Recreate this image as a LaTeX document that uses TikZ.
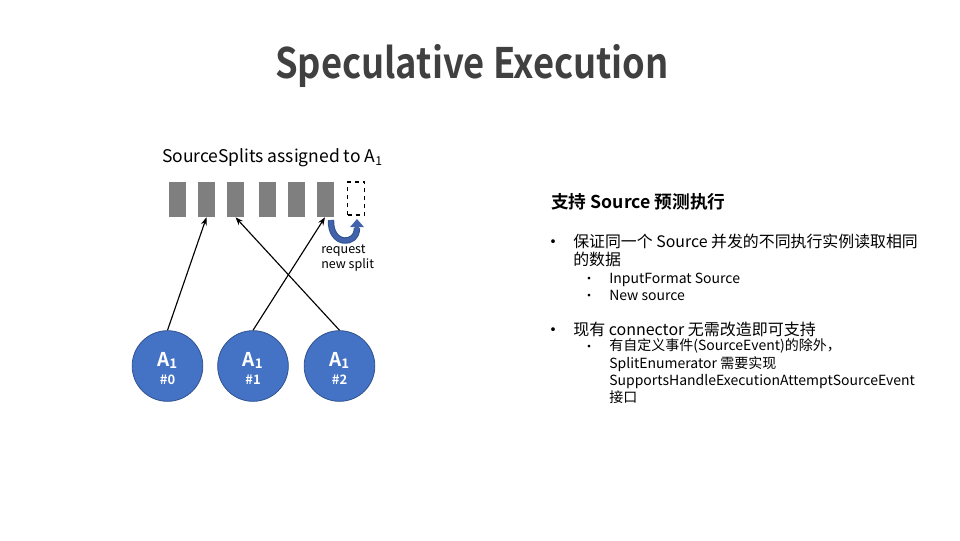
\documentclass[tikz,border=0pt]{standalone}
\usepackage{fontspec}
\setmainfont{Noto Sans CJK SC}
\newfontfamily\cjkbold{Noto Sans CJK SC Bold}
\usetikzlibrary{arrows.meta}
\definecolor{titlegray}{HTML}{404040}
\definecolor{bargray}{HTML}{7F7F7F}
\definecolor{circblue}{HTML}{4472C4}
\definecolor{circedge}{HTML}{2F528F}
\definecolor{ublue}{HTML}{4262AC}
\newcommand{\fpx}[1]{\fontsize{\dimexpr #1pt*3/4\relax}{\dimexpr #1pt*9/10\relax}\selectfont}
\tikzset{
  barbox/.style={fill=bargray, draw=none, minimum width=12.75pt, minimum height=26.25pt, inner sep=0pt},
  emptybox/.style={draw=black, dashed, line width=0.9pt, fill=white, minimum width=12.75pt, minimum height=24.75pt, inner sep=0pt},
  agent/.style={circle, fill=circblue, draw=circedge, line width=0.6pt, minimum size=53pt, inner sep=0pt},
  agentlbl/.style={anchor=base, inner sep=0pt, text=white},
  link/.style={-{Stealth[length=6pt,width=4.5pt]}, line width=0.85pt, black},
  txt/.style={anchor=base west, inner sep=0pt, text=black},
  dot/.style={anchor=base, inner sep=0pt, text=black},
}
\begin{document}
\begin{tikzpicture}[x=0.75pt, y=-0.75pt]
\useasboundingbox (0,0) rectangle (960,540);
% title
\node[anchor=base, inner sep=0pt, text=titlegray] (title) at (472,78) {\scalebox{0.865}[1]{\cjkbold\fpx{42}Speculative Execution}};
% left diagram
\node[anchor=base, inner sep=0pt] (cap) at (272.5,162) {\fpx{17.5}SourceSplits assigned to A\textsubscript{1}};
\node[barbox] (b1) at (177.5,199.5) {};
\node[barbox] (b2) at (206.5,199.5) {};
\node[barbox] (b3) at (235.5,199.5) {};
\node[barbox] (b4) at (267.5,199.5) {};
\node[barbox] (b5) at (296,199.5) {};
\node[barbox] (b6) at (325,199.5) {};
\node[emptybox] (b7) at (356,198.5) {};
\node[agent] (c1) at (167.5,366) {};
\node[agent] (c2) at (253,366) {};
\node[agent] (c3) at (339.5,366) {};
\node[agentlbl] (c1a) at (167.5,366) {\cjkbold\fpx{19}A\textsubscript{1}};
\node[agentlbl] (c1b) at (167.5,384) {\cjkbold\fpx{13}\#0};
\node[agentlbl] (c2a) at (253,366) {\cjkbold\fpx{19}A\textsubscript{1}};
\node[agentlbl] (c2b) at (253,384) {\cjkbold\fpx{13}\#1};
\node[agentlbl] (c3a) at (339.5,366) {\cjkbold\fpx{19}A\textsubscript{1}};
\node[agentlbl] (c3b) at (339.5,384) {\cjkbold\fpx{13}\#2};
\draw[link] (c1.north) -- (b2.south);
\draw[link] (c2.north) -- (b6.south);
\draw[link] (c3.north) -- (b3.south);
\coordinate (u1) at (331,220);
\coordinate (u2) at (357,219);
\draw[circedge, line width=4.8pt] (u1) .. controls (330,246) and (357,246) .. (357,228);
\draw[ublue, line width=3.3pt, -{Triangle[length=6pt,width=10pt]}] (u1) .. controls (330,246) and (357,246) .. (357,228) -- (u2);
\node[txt] (req1) at (321,253) {\fpx{12.5}request};
\node[txt] (req2) at (321,268) {\fpx{12.5}new split};
% right text
\node[txt] (hdr) at (551,208) {\cjkbold\fpx{17.7}支持 Source 预测执行};
\node[dot] (d1) at (553,248) {\fpx{18}•};
\node[txt] (l1) at (573,247) {\fpx{15.9}保证同一个 Source 并发的不同执行实例读取相同};
\node[txt] (l2) at (573,265) {\fpx{15.9}的数据};
\node[dot] (d2) at (589,283) {\fpx{13}•};
\node[txt] (l3) at (609,283) {\fpx{14}InputFormat Source};
\node[dot] (d3) at (589,300) {\fpx{13}•};
\node[txt] (l4) at (609,300) {\fpx{14}New source};
\node[dot] (d4) at (553,336) {\fpx{18}•};
\node[txt] (l5) at (573,335) {\fpx{16}现有 connector 无需改造即可支持};
\node[dot] (d5) at (589,351) {\fpx{13}•};
\node[txt] (l6) at (609,350) {\fpx{14}有自定义事件(SourceEvent)的除外，};
\node[txt] (l7) at (609,368) {\fpx{14}SplitEnumerator 需要实现};
\node[txt] (l8) at (609,385) {\fpx{14}SupportsHandleExecutionAttemptSourceEvent};
\node[txt] (l9) at (609,402) {\fpx{14}接口};
\end{tikzpicture}
\end{document}
